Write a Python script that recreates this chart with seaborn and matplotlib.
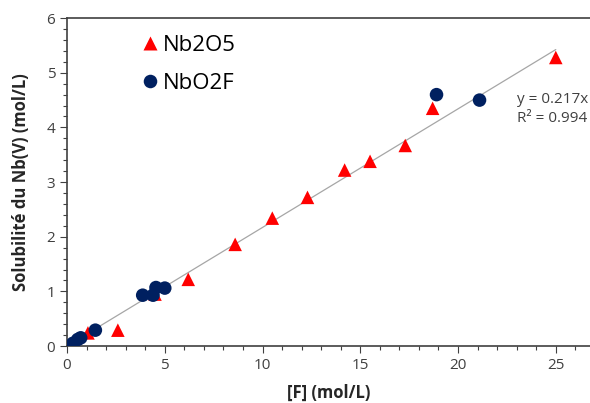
import pandas as pd
import matplotlib.pyplot as plt
import seaborn as sns

# values
nb2o5_x = [0.3, 1.07, 2.6, 4.5, 6.2, 8.6, 10.5, 12.3, 14.2, 15.5, 17.3, 18.7, 25.0]
nb2o5_y = [0.02, 0.24, 0.29, 0.95, 1.22, 1.86, 2.34, 2.72, 3.22, 3.38, 3.67, 4.35, 5.28]
nbo2f_x = [0.3, 0.55, 0.7, 1.45, 3.87, 4.4, 4.55, 5.0, 18.9, 21.1]
nbo2f_y = [0.05, 0.12, 0.15, 0.29, 0.93, 0.93, 1.07, 1.06, 4.6, 4.5]
slope = 0.217
fit_x = [0, 25.0]

df = pd.concat([
    pd.DataFrame({'F': nb2o5_x, 'Nb': nb2o5_y, 'serie': 'Nb2O5'}),
    pd.DataFrame({'F': nbo2f_x, 'Nb': nbo2f_y, 'serie': 'NbO2F'}),
])

sns.set_style('white')
plt.rcParams['font.family'] = ['Open Sans', 'DejaVu Sans']

fig = plt.figure(figsize=(5.9, 4.03), dpi=100)
ax = fig.add_axes([0.1136, 0.1414, 0.8864, 0.8136])

# trend line
ax.plot(fit_x, [slope * v for v in fit_x], color='#a6a6a6', lw=0.9, zorder=1)

sns.scatterplot(data=df, x='F', y='Nb', hue='serie', style='serie',
                markers={'Nb2O5': '^', 'NbO2F': 'o'},
                palette={'Nb2O5': '#ff0000', 'NbO2F': '#002060'},
                s=95, edgecolor='none', ax=ax, zorder=3)

ax.set_xlim(0, 26.75)
ax.set_ylim(0, 6)
ax.set_xticks([0, 5, 10, 15, 20, 25])
ax.set_xticks(range(0, 27), minor=True)
ax.set_yticks(range(0, 7))
ax.set_yticks([i * 0.2 for i in range(31)], minor=True)
ax.tick_params(which='major', direction='out', length=5, width=0.8, color='#404040',
               labelsize=11, labelcolor='#404040', left=True, bottom=True)
ax.tick_params(which='minor', direction='out', length=3, width=0.8, color='#404040',
               left=True, bottom=True)
for s in ['left', 'bottom', 'top']:
    ax.spines[s].set_color('#404040')
    ax.spines[s].set_linewidth(1.2)
ax.spines['right'].set_visible(False)

ax.set_xlabel('[F] (mol/L)', fontsize=12, fontweight='bold', labelpad=8)
ax.set_ylabel('Solubilité du Nb(V) (mol/L)', fontsize=12, fontweight='bold', labelpad=12)

leg = ax.legend(loc='upper left', bbox_to_anchor=(0.077, 1.01), frameon=False,
                fontsize=16, handletextpad=-0.4, labelspacing=0.75, markerscale=1.0)
for t in leg.get_texts():
    t.set_color('#000000')

ax.text(23.0, 4.33, 'y = 0.217x\nR² = 0.994', fontsize=11, color='#404040',
        va='center', linespacing=1.35)

fig.savefig('out.png', dpi=100)
